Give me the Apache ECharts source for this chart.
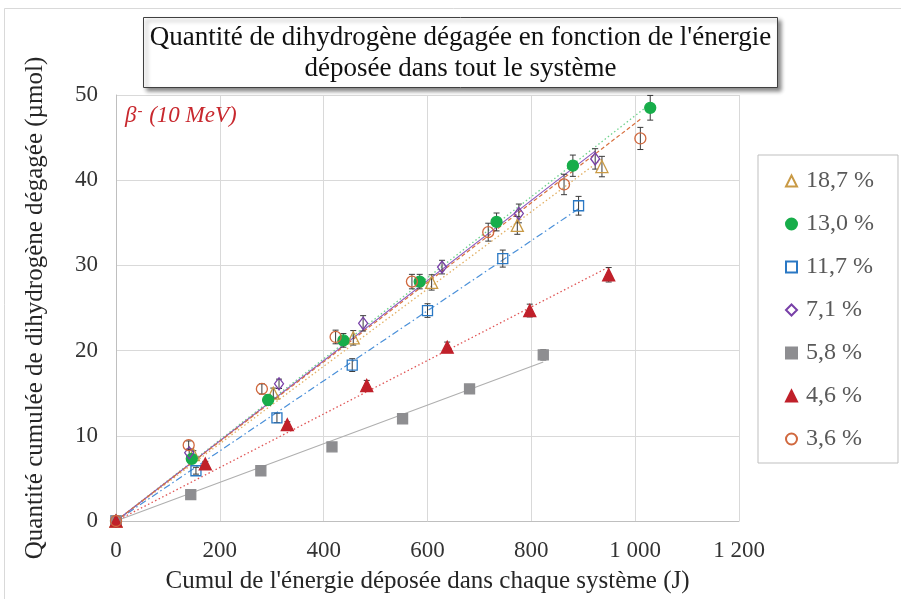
<!DOCTYPE html>
<html><head><meta charset="utf-8">
<script src="https://cdn.jsdelivr.net/npm/echarts@6/dist/echarts.min.js"></script>
<style>html,body{margin:0;padding:0;background:#fff}#c{width:901px;height:599px}</style>
</head><body><div id="c"></div>
<script>
// Series names (legend order)
const names = ['18,7 %', '13,0 %', '11,7 %', '7,1 %', '5,8 %', '4,6 %', '3,6 %'];

// Energy (J) values per series
const e187 = [0, 149, 303, 457, 608, 773, 936];
const e130 = [0, 146, 293, 438, 585, 733, 880, 1029];
const e117 = [0, 154, 310, 455, 600, 745, 891];
const e71  = [0, 141, 314, 476, 628, 776, 923];
const e58  = [0, 144, 279, 416, 552, 681, 823];
const e46  = [0, 172, 330, 483, 638, 797, 949];
const e36  = [0, 140, 281, 423, 570, 717, 863, 1010];

// Hydrogen quantity (µmol) per series
const h187 = [0, 7.8, 15.0, 21.5, 28.0, 34.7, 41.6];
const h130 = [0, 7.3, 14.2, 21.2, 28.1, 35.1, 41.7, 48.5];
const h117 = [0, 5.9, 12.1, 18.3, 24.7, 30.8, 37.0];
const h71  = [0, 8.0, 16.1, 23.2, 29.8, 36.1, 42.5];
const h58  = [0, 3.1, 5.9, 8.7, 12.0, 15.5, 19.5];
const h46  = [0, 6.7, 11.3, 15.9, 20.4, 24.7, 28.9];
const h36  = [0, 8.9, 15.5, 21.6, 28.1, 33.9, 39.5, 44.9];

// Error bar half-heights (µmol)
const r187 = [0, 0.45, 0.6, 0.85, 0.9, 1.05, 1.2];
const r130 = [0, 0.45, 0.6, 0.8, 0.85, 1.05, 1.25, 1.45];
const r117 = [0, 0.4, 0.55, 0.75, 0.8, 1.0, 1.1];
const r71  = [0, 0.45, 0.55, 0.9, 0.8, 1.1, 1.2];
const r58  = [0, 0.3, 0.35, 0.4, 0.45, 0.5, 0.6];
const r46  = [0, 0.3, 0.35, 0.6, 0.6, 0.75, 0.85];
const r36  = [0, 0.5, 0.6, 0.8, 0.85, 1.05, 1.2, 1.3];

// Tick values
const xTicks = [0, 200, 400, 600, 800, 1000, 1200];
const yTicks = [0, 10, 20, 30, 40, 50];

const E = [e187, e130, e117, e71, e58, e46, e36];
const H = [h187, h130, h117, h71, h58, h46, h36];
const R = [r187, r130, r117, r71, r58, r46, r36];

const styles = [
  {symbol: 'triangle', size: 12, color: 'rgba(255,255,255,0)', border: '#C99A45', line: '#E3B064', type: [1.5, 2.5], lw: 1.3},
  {symbol: 'circle', size: 11, color: '#17AD4A', border: '#17AD4A', line: '#6ED28C', type: [1.5, 2.5], lw: 1.3},
  {symbol: 'rect', size: 10, color: 'rgba(255,255,255,0)', border: '#2A78C4', line: '#4A90D9', type: [7, 3, 1.5, 3], lw: 1.2},
  {symbol: 'diamond', size: [9, 12], color: 'rgba(255,255,255,0)', border: '#7840A8', line: '#8A58BC', type: 'solid', lw: 1.1},
  {symbol: 'rect', size: 10, color: '#8E8E91', border: '#8E8E91', line: '#AFAFAF', type: 'solid', lw: 1.1},
  {symbol: 'triangle', size: 12, color: '#C0202A', border: '#C0202A', line: '#E05555', type: [1.5, 2.5], lw: 1.3},
  {symbol: 'circle', size: 11, color: 'rgba(255,255,255,0)', border: '#D0683E', line: '#D8703F', type: [4, 2.5], lw: 1.2}
];

const series = [];
names.forEach((n, i) => {
  const pts = E[i].map((x, k) => [x, H[i][k]]);
  // linear trend through origin (least squares)
  let sxy = 0, sxx = 0;
  pts.forEach(p => { sxy += p[0] * p[1]; sxx += p[0] * p[0]; });
  const slope = sxy / sxx;
  const xmax = Math.max.apply(null, E[i]);
  const st = styles[i];
  series.push({
    name: 'trend ' + n, type: 'line', z: 2, silent: true, showSymbol: false, symbol: 'none',
    data: [[0, 0], [xmax, slope * xmax]],
    lineStyle: {color: st.line, width: st.lw, type: st.type}
  });
  series.push({
    name: 'err ' + n, type: 'custom', z: 3, silent: true,
    data: pts.map((p, k) => [p[0], p[1], R[i][k]]),
    renderItem: function (params, api) {
      const x = api.value(0), y = api.value(1), e = api.value(2);
      if (!e) return null;
      const t = api.coord([x, y + e]), b = api.coord([x, y - e]);
      const c = 3;
      const s = {stroke: '#3a3a3a', lineWidth: 1};
      return {type: 'group', children: [
        {type: 'line', shape: {x1: t[0], y1: t[1], x2: b[0], y2: b[1]}, style: s},
        {type: 'line', shape: {x1: t[0] - c, y1: t[1], x2: t[0] + c, y2: t[1]}, style: s},
        {type: 'line', shape: {x1: b[0] - c, y1: b[1], x2: b[0] + c, y2: b[1]}, style: s}
      ]};
    }
  });
  series.push({
    name: n, type: 'scatter', z: 4, symbol: st.symbol, symbolSize: st.size,
    data: pts,
    itemStyle: {color: st.color, borderColor: st.border, borderWidth: 1.3, opacity: 1}
  });
});

const chart = echarts.init(document.getElementById('c'), null, {renderer: 'canvas'});
const serif = '"Liberation Serif", "Times New Roman", serif';
chart.setOption({
  animation: false,
  backgroundColor: '#fff',
  grid: {left: 116, right: 162, top: 95, bottom: 78, containLabel: false},
  xAxis: {
    type: 'value', min: xTicks[0], max: xTicks[xTicks.length - 1], interval: xTicks[1] - xTicks[0],
    name: "Cumul de l'énergie déposée dans chaque système (J)",
    nameLocation: 'middle', nameGap: 48,
    nameTextStyle: {fontFamily: serif, fontSize: 25, color: '#262626'},
    axisLine: {show: true, lineStyle: {color: '#BFBFBF', width: 1}},
    axisTick: {show: false},
    axisLabel: {fontFamily: serif, fontSize: 23, color: '#333', margin: 18,
      formatter: v => String(v).replace(/\B(?=(\d{3})+(?!\d))/g, '\u00a0')},
    splitLine: {show: true, lineStyle: {color: '#D9D9D9', width: 1}}
  },
  yAxis: {
    type: 'value', min: yTicks[0], max: yTicks[yTicks.length - 1], interval: yTicks[1] - yTicks[0],
    name: 'Quantité cumulée de dihydrogène dégagée (µmol)',
    nameLocation: 'middle', nameGap: 68, nameRotate: 90,
    nameTextStyle: {fontFamily: serif, fontSize: 25, color: '#262626'},
    axisLine: {show: true, lineStyle: {color: '#BFBFBF', width: 1}},
    axisTick: {show: false},
    axisLabel: {fontFamily: serif, fontSize: 23, color: '#333', margin: 18},
    splitLine: {show: true, lineStyle: {color: '#D9D9D9', width: 1}}
  },
  legend: {
    data: names, orient: 'vertical', left: 758, top: 155,
    padding: [13, 24, 11, 27], itemGap: 17, itemWidth: 11, itemHeight: 11,
    borderColor: '#BFBFBF', borderWidth: 1, backgroundColor: '#fff',
    selectedMode: false,
    textStyle: {fontFamily: serif, fontSize: 24, color: '#595959', lineHeight: 26, padding: [0, 0, 0, 4]}
  },
  graphic: [
    {type: 'rect', z: 0, silent: true, shape: {x: 4.5, y: 8.5, width: 900, height: 595},
      style: {fill: 'none', stroke: '#D9D9D9', lineWidth: 1}},
    {type: 'rect', z: 10, shape: {x: 143.5, y: 17.5, width: 634, height: 70},
      style: {fill: '#fff', stroke: '#404040', lineWidth: 1, shadowBlur: 4, shadowOffsetX: 3, shadowOffsetY: 3, shadowColor: 'rgba(0,0,0,0.45)'}},
    {type: 'text', z: 11, x: 460.5, y: 53,
      style: {text: "Quantité de dihydrogène dégagée en fonction de l'énergie\ndéposée dans tout le système",
        align: 'center', verticalAlign: 'middle', font: '27px ' + serif, lineHeight: 31, fill: '#111'}},
    {type: 'text', z: 11, x: 125, y: 116,
      style: {text: '{b|β}{s|-}{t| (10 MeV)}', verticalAlign: 'middle',
        rich: {
          b: {fontFamily: serif, fontStyle: 'italic', fontSize: 23, fill: '#C8282E'},
          s: {fontFamily: serif, fontSize: 15, fill: '#C8282E', verticalAlign: 'top', padding: [0, 1, 9, 1]},
          t: {fontFamily: serif, fontStyle: 'italic', fontSize: 23, fill: '#C8282E'}
        }}}
  ],
  series: series
});
</script>
</body></html>
